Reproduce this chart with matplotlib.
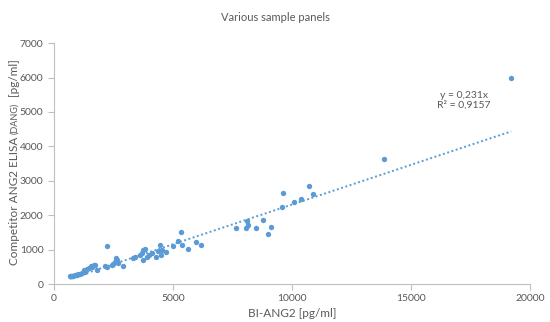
import numpy as np
import matplotlib
matplotlib.use("Agg")
import matplotlib.pyplot as plt

plt.rcParams["font.family"] = ["Lato", "DejaVu Sans"]

# BI-ANG2 vs competitor ELISA
bi_ang2 = [660, 700, 740, 780, 820, 870, 920, 970, 1020, 1100,
           1180, 1250, 1300, 1390, 1470, 1540, 1600, 1680, 1720, 1810,
           2140, 2230, 2230, 2440, 2480, 2560, 2600, 2650, 2690, 2900,
           3320, 3400, 3610, 3700, 3740, 3740, 3820, 3910, 3990, 4120,
           4290, 4370, 4450, 4500, 4540, 4710, 5000, 5210, 5340, 5380,
           5630, 5970, 6180, 7650, 8070, 8110, 8150, 8490, 8780, 8990,
           9120, 9580, 9620, 10080, 10380, 10710, 10880, 13870, 19200]
competitor = [220, 230, 225, 240, 235, 250, 260, 270, 300, 280,
              320, 410, 350, 430, 460, 520, 500, 550, 550, 410,
              520, 1090, 500, 550, 580, 640, 760, 700, 610, 520,
              760, 790, 840, 900, 990, 700, 1010, 780, 840, 900,
              790, 960, 1130, 840, 1000, 930, 1100, 1250, 1510, 1130,
              1020, 1210, 1130, 1620, 1620, 1830, 1710, 1620, 1850, 1450,
              1660, 2240, 2640, 2380, 2470, 2850, 2610, 3630, 5990]
slope = 0.231
r2_text = "0,9157"

blue = "#5b9bd5"
grey = "#595959"

fig = plt.figure(figsize=(5.5, 3.22), dpi=100)
ax = fig.add_axes([0.098, 0.118, 0.866, 0.748])

ax.scatter(bi_ang2, competitor, s=15, color=blue, zorder=3, linewidths=0)
xfit = np.array([min(bi_ang2), max(bi_ang2)])
ax.plot(xfit, slope * xfit, ls=(0, (1, 1.3)), color=blue, lw=1.4, zorder=2)

ax.text(17200, 5340, f"y = {slope:.3f}x".replace(".", ",") + f"\nR² = {r2_text}",
        ha="center", va="center", fontsize=7.5, color=grey, linespacing=1.0)

ax.set_xlim(0, 20000)
ax.set_ylim(0, 7000)
ax.set_xticks(range(0, 20001, 5000))
ax.set_yticks(range(0, 7001, 1000))
ax.tick_params(colors="#bfbfbf", labelcolor=grey, labelsize=7.5, length=4, width=0.8)
for s in ["top", "right"]:
    ax.spines[s].set_visible(False)
for s in ["left", "bottom"]:
    ax.spines[s].set_color("#bfbfbf")
    ax.spines[s].set_linewidth(0.8)

ax.set_xlabel("BI-ANG2 [pg/ml]", fontsize=8.5, color=grey, labelpad=3)
fig.text(0.5, 0.945, "Various sample panels", ha="center", va="center",
         fontsize=8, color=grey)

# y label with the smaller "(DANG)" part, stacked as rotated pieces
pieces = [("Competitor ANG2 ELISA ", 8.5), ("(DANG)", 6.5), ("  [pg/ml]", 8.5)]
renderer = fig.canvas.get_renderer()
texts = []
for s, fs in pieces:
    t = fig.text(0.026, 0.5, s, rotation=90, ha="center", va="bottom",
                 fontsize=fs, color=grey)
    texts.append(t)
heights = [t.get_window_extent(renderer).height for t in texts]
fig_h = fig.get_figheight() * fig.dpi
center = 322 - 162
y = center - sum(heights) / 2
for t, h in zip(texts, heights):
    t.set_position((0.026, y / fig_h))
    y += h

fig.savefig("out.png", dpi=100)
